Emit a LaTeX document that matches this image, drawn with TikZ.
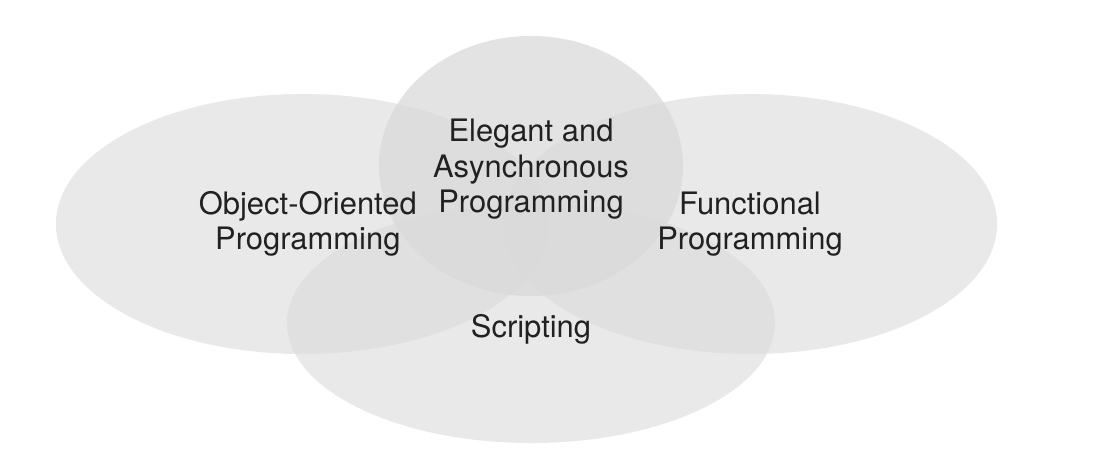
\documentclass[tikz,border=0pt]{standalone}
\usepackage{fontspec}
\setmainfont{TeX Gyre Heros}
\usetikzlibrary{shapes.geometric}
\definecolor{blobgray}{gray}{0.85}
\definecolor{labelgray}{gray}{0.13}
\tikzset{x=0.025cm, y=-0.025cm, % One unit is one pixel, y runs downwards
      blob/.style={ % Sets the properties for each field
      ellipse,
      inner sep=0pt,
      fill=blobgray,
      fill opacity=0.57},
      wideblob/.style={blob, minimum width=12.35cm, minimum height=6.5cm},
      topic/.style={ % Sets the properties for each label
      text=labelgray,
      align=center,
      font=\fontsize{22}{25}\selectfont}}

\begin{document}
\begin{tikzpicture}
      \useasboundingbox (0,0) rectangle (1110,464);
      \node[wideblob] (oopblob) at (303,224) {};
      \node[wideblob] (funcblob) at (750,224) {};
      \node[blob, minimum width=12.2cm, minimum height=6cm] (scriptblob) at (531,323) {};
      \node[blob, fill opacity=0.73, minimum width=7.6cm, minimum height=6.5cm] (asyncblob) at (531,166) {};
      \node[topic] (oop) at ([xshift=0.12cm]oopblob) {Object-Oriented\\Programming};
      \node[topic] (func) at (funcblob) {Functional\\Programming};
      \node[topic] (async) at ([yshift=-0.08cm]asyncblob) {Elegant and\\Asynchronous\\Programming};
      \node[topic] (script) at ([yshift=-0.15cm]scriptblob) {Scripting};
\end{tikzpicture}
\end{document}
